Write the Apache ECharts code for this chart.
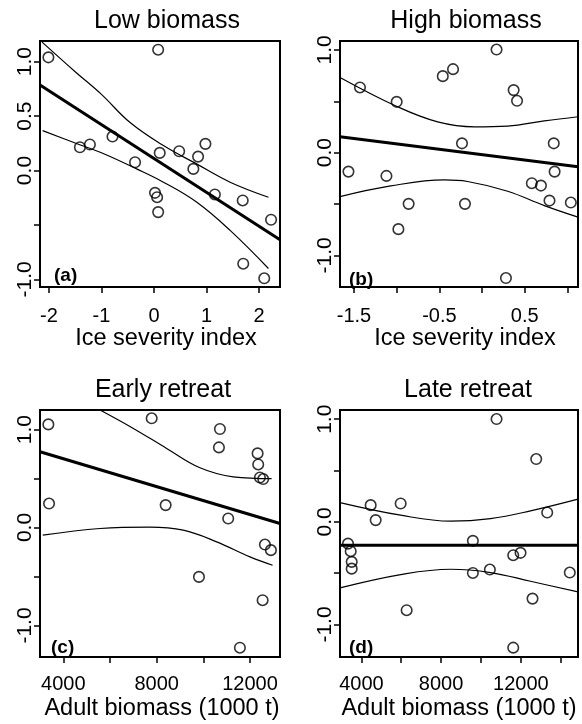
<!DOCTYPE html>
<html><head><meta charset="utf-8">
<script src="https://cdn.jsdelivr.net/npm/echarts@6/dist/echarts.min.js"></script>
<style>html,body{margin:0;padding:0;background:#fff}#c{width:582px;height:724px}</style>
</head><body><div id="c"></div>
<script>
// ---- Panel (a) Low biomass ----
const aX = [-2.01,0.08,-1.41,-1.22,-0.79,-0.36,0.11,0.48,0.98,0.84,0.75,0.02,0.06,0.08,1.16,1.69,2.23,1.70,2.10];
const aY = [1.04,1.11,0.214,0.239,0.312,0.076,0.162,0.177,0.245,0.128,0.015,-0.205,-0.245,-0.382,-0.22,-0.275,-0.452,-0.856,-0.99];
const aFitX = [-2.17,2.4];
const aFitY = [0.785,-0.635];
const aUpX = [-2.13,-1.5,-1,-0.46,0.18,0.81,1.45,2.18];
const aUpY = [1.18,0.908,0.70,0.443,0.229,0.061,-0.107,-0.245];
const aLoX = [-2.12,-1.5,-1,-0.33,0.18,0.81,1.45,2.18];
const aLoY = [0.367,0.253,0.163,0.015,-0.107,-0.29,-0.55,-0.90];

// ---- Panel (b) High biomass ----
const bX = [-1.565,-1.43,-1.12,-1.0,-0.98,-0.86,-0.46,-0.34,-0.235,-0.2,0.17,0.37,0.41,0.28,0.583,0.69,0.79,0.85,0.84,1.04];
const bY = [-0.184,0.635,-0.226,0.495,-0.744,-0.498,0.745,0.813,0.091,-0.498,1.004,0.609,0.505,-1.22,-0.297,-0.32,-0.466,-0.184,0.091,-0.485];
const bFitX = [-1.664,1.124];
const bFitY = [0.155,-0.136];
const bUpX = [-1.664,-0.99,-0.52,-0.09,0.30,0.73,1.124];
const bUpY = [0.732,0.447,0.30,0.252,0.259,0.31,0.35];
const bLoX = [-1.664,-1.07,-0.44,-0.17,0.30,0.73,1.124];
const bLoY = [-0.427,-0.323,-0.265,-0.28,-0.375,-0.515,-0.627];

// ---- Panel (c) Early retreat ----
const cX = [3358,3388,7786,10711,10668,8385,11066,9812,12325,12351,12424,12565,12638,12895,12540,11567];
const cY = [1.053,0.245,1.115,1.006,0.818,0.229,0.092,-0.504,0.757,0.644,0.511,0.495,-0.174,-0.231,-0.742,-1.227];
const cFitX = [3000,13285];
const cFitY = [0.774,0.041];
const cUpX = [5572,7000,8428,9856,11281,12925];
const cUpY = [1.2,1.012,0.808,0.61,0.518,0.50];
const cLoX = [3118,5572,7713,9141,10570,11999,12968];
const cLoY = [-0.078,-0.01,0.005,-0.027,-0.146,-0.30,-0.385];

// ---- Panel (d) Late retreat ----
const dX = [10782,12772,4466,5970,4717,13323,3328,3464,3514,3514,9594,9594,10446,11619,11985,14456,12586,6271,11619];
const dY = [1.002,0.612,0.163,0.179,0.017,0.091,-0.212,-0.286,-0.39,-0.456,-0.185,-0.498,-0.465,-0.325,-0.302,-0.494,-0.748,-0.861,-1.226];
const dFitX = [2927,14868];
const dFitY = [-0.227,-0.227];
const dUpX = [2927,5970,8476,10481,12486,14868];
const dUpY = [0.188,0.065,0.007,0.032,0.107,0.221];
const dLoX = [2927,5970,8476,10481,12486,14868];
const dLoY = [-0.644,-0.514,-0.462,-0.494,-0.579,-0.683];

// ---- Titles, axis names, ticks ----
const titles = ['Low biomass','High biomass','Early retreat','Late retreat'];
const panelTags = ['(a)','(b)','(c)','(d)'];
const xNames = ['Ice severity index','Ice severity index','Adult biomass (1000 t)','Adult biomass (1000 t)'];
const xTicksA = [-2,-1,0,1,2];
const xLabelsA = [-2,-1,0,1,2];
const xTicksB = [-1.5,-1,-0.5,0,0.5,1];
const xLabelsB = [-1.5,-0.5,0.5];
const xTicksC = [4000,6000,8000,10000,12000];
const xLabelsC = [4000,8000,12000];
const xTicksD = [4000,6000,8000,10000,12000,14000];
const xLabelsD = [4000,8000,12000];
const yTicks = [-1,-0.5,0,0.5,1];
const yLabelsA = [-1,0,0.5,1];
const yLabelsB = [-1,0,1];

const FONT = '"Liberation Sans", Arial, Helvetica, sans-serif';
const zip = (xs, ys) => xs.map((x, i) => [x, ys[i]]);

const panels = [
  {grid:{left:40,top:41,width:240,height:246}, xr:[-2.17,2.4], yr:[-1.07,1.19], xt:xTicksA, xl:xLabelsA, xf:v=>String(v), yl:yLabelsA,
   pts:zip(aX,aY), fit:zip(aFitX,aFitY), up:zip(aUpX,aUpY), lo:zip(aLoX,aLoY), tx:162, ty:4, tagx:49, tagy:261, nshift:12, lm:19, ng:40},
  {grid:{left:340,top:41,width:238,height:246}, xr:[-1.664,1.124], yr:[-1.307,1.087], xt:xTicksB, xl:xLabelsB, xf:v=>v.toFixed(1), yl:yLabelsB,
   pts:zip(bX,bY), fit:zip(bFitX,bFitY), up:zip(bUpX,bUpY), lo:zip(bLoX,bLoY), tx:461, ty:4, tagx:344, tagy:265, nshift:12, lm:19, ng:40},
  {grid:{left:40,top:410,width:240,height:247}, xr:[3000,13285], yr:[-1.322,1.2], xt:xTicksC, xl:xLabelsC, xf:v=>String(v), yl:yLabelsB,
   pts:zip(cX,cY), fit:zip(cFitX,cFitY), up:zip(cUpX,cUpY), lo:zip(cLoX,cLoY), tx:158, ty:373, tagx:46, tagy:633, nshift:4, lm:17, ng:40},
  {grid:{left:340,top:410,width:238,height:247}, xr:[2927,14868], yr:[-1.317,1.09], xt:xTicksD, xl:xLabelsD, xf:v=>String(v), yl:yLabelsB,
   pts:zip(dX,dY), fit:zip(dFitX,dFitY), up:zip(dUpX,dUpY), lo:zip(dLoX,dLoY), tx:463, ty:373, tagx:344, tagy:633, nshift:0, lm:17, ng:40}
];

const option = {
  animation:false,
  backgroundColor:'#fff',
  textStyle:{fontFamily:FONT},
  title:[], grid:[], xAxis:[], yAxis:[], series:[]
};

panels.forEach((p, i) => {
  option.title.push({text:titles[i], left:p.tx, top:p.ty, textAlign:'center',
    textStyle:{fontFamily:FONT, fontSize:25, fontWeight:'normal', color:'#000'}});
  option.title.push({text:panelTags[i], left:p.tagx, top:p.tagy,
    textStyle:{fontFamily:FONT, fontSize:19, fontWeight:'bold', color:'#000'}});
  option.grid.push(Object.assign({show:true, borderColor:'#000', borderWidth:2, backgroundColor:'transparent'}, p.grid));
  option.xAxis.push({type:'value', gridIndex:i, min:p.xr[0], max:p.xr[1],
    name:xNames[i], nameLocation:'middle', nameGap:p.ng,
    nameTextStyle:{fontFamily:FONT, fontSize:23.5, color:'#000', padding:[0,0,0,p.nshift]},
    axisLine:{show:false, onZero:false}, splitLine:{show:false},
    axisTick:{show:true, inside:false, length:6, customValues:p.xt, lineStyle:{color:'#000', width:1.5}},
    axisLabel:{show:true, customValues:p.xl, formatter:p.xf, margin:p.lm, fontSize:20, color:'#000', fontFamily:FONT}
  });
  option.yAxis.push({type:'value', gridIndex:i, min:p.yr[0], max:p.yr[1],
    axisLine:{show:false, onZero:false}, splitLine:{show:false},
    axisTick:{show:true, inside:false, length:6, customValues:yTicks, lineStyle:{color:'#000', width:1.5}},
    axisLabel:{show:true, customValues:p.yl, formatter:v=>v.toFixed(1), rotate:90, margin:4, fontSize:21, color:'#000', fontFamily:FONT}
  });
  option.series.push({type:'line', xAxisIndex:i, yAxisIndex:i, data:p.up, smooth:0.4, showSymbol:false, symbol:'none', clip:true,
    lineStyle:{color:'#000', width:1.2}, silent:true, z:2});
  option.series.push({type:'line', xAxisIndex:i, yAxisIndex:i, data:p.lo, smooth:0.4, showSymbol:false, symbol:'none', clip:true,
    lineStyle:{color:'#000', width:1.2}, silent:true, z:2});
  option.series.push({type:'line', xAxisIndex:i, yAxisIndex:i, data:p.fit, showSymbol:false, symbol:'none', clip:true,
    lineStyle:{color:'#000', width:3}, silent:true, z:3});
  option.series.push({type:'scatter', xAxisIndex:i, yAxisIndex:i, data:p.pts, symbol:'circle', symbolSize:10.5,
    itemStyle:{color:'rgba(255,255,255,0)', borderColor:'#000', borderWidth:1.6}, z:4});
});

const chart = echarts.init(document.getElementById('c'), null, {renderer:'canvas'});
chart.setOption(option);
</script>
</body></html>
